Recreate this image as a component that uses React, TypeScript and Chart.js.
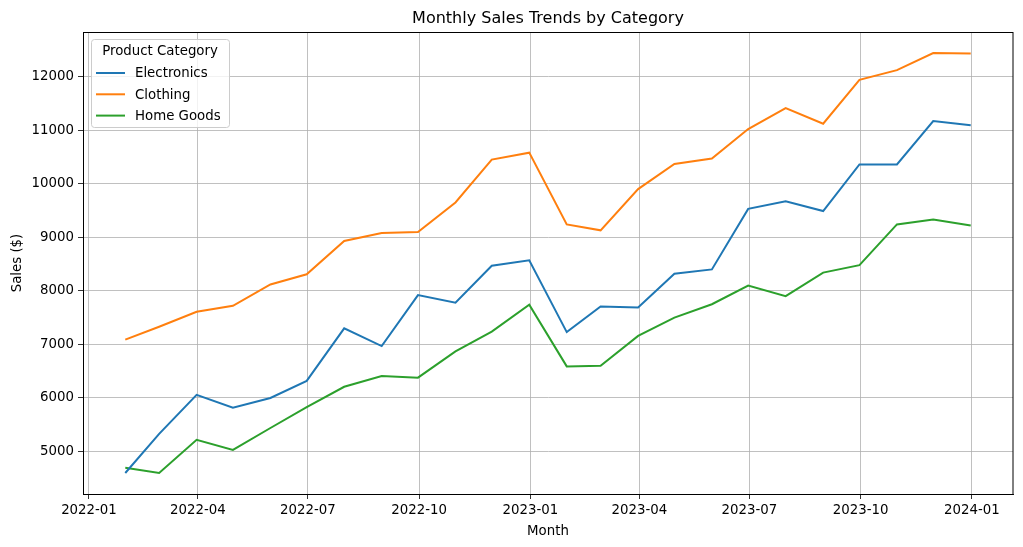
import React, { useEffect, useRef } from "react";
import { Chart, registerables } from "chart.js";

Chart.register(...registerables);

const MONTHS = [
  "2022-01-31", "2022-02-28", "2022-03-31", "2022-04-30", "2022-05-31", "2022-06-30",
  "2022-07-31", "2022-08-31", "2022-09-30", "2022-10-31", "2022-11-30", "2022-12-31",
  "2023-01-31", "2023-02-28", "2023-03-31", "2023-04-30", "2023-05-31", "2023-06-30",
  "2023-07-31", "2023-08-31", "2023-09-30", "2023-10-31", "2023-11-30", "2023-12-31",
];

const ELECTRONICS = [
  4600, 5330, 6060, 5820, 6000, 6320, 7300, 6970, 7920, 7780, 8470, 8570,
  7230, 7710, 7690, 8320, 8400, 9530, 9670, 9490, 10360, 10360, 11170, 11090,
];

const CLOTHING = [
  7090, 7330, 7610, 7720, 8120, 8310, 8930, 9080, 9100, 9650, 10450, 10580,
  9240, 9130, 9900, 10370, 10470, 11020, 11410, 11120, 11940, 12120, 12440, 12430,
];

const HOME_GOODS = [
  4700, 4600, 5220, 5030, 5440, 5830, 6210, 6410, 6380, 6870, 7240, 7740,
  6590, 6600, 7160, 7500, 7750, 8100, 7900, 8340, 8480, 9240, 9330, 9220,
];

const SERIES_NAMES = ["Electronics", "Clothing", "Home Goods"];
const SERIES_COLORS = ["#1f77b4", "#ff7f0e", "#2ca02c"];

const X_TICKS = [
  "2022-01", "2022-04", "2022-07", "2022-10", "2023-01",
  "2023-04", "2023-07", "2023-10", "2024-01",
];
const Y_TICKS = [5000, 6000, 7000, 8000, 9000, 10000, 11000, 12000];

const TITLE = "Monthly Sales Trends by Category";
const X_LABEL = "Month";
const Y_LABEL = "Sales ($)";
const LEGEND_TITLE = "Product Category";

const DAY = 86400000;
const toDay = (s: string) => Date.parse(s.length === 7 ? s + "-01T00:00:00Z" : s + "T00:00:00Z") / DAY;

const FONT = "'DejaVu Sans', sans-serif";

export default function App() {
  const ref = useRef<HTMLCanvasElement | null>(null);

  useEffect(() => {
    document.body.style.margin = "0";
    const canvas = ref.current;
    if (!canvas) return;

    const seriesValues = [ELECTRONICS, CLOTHING, HOME_GOODS];
    const xs = MONTHS.map(toDay);
    const xMinD = Math.min(...xs);
    const xMaxD = Math.max(...xs);
    const xPad = (xMaxD - xMinD) * 0.05;
    const all = seriesValues.flat();
    const yMinD = Math.min(...all);
    const yMaxD = Math.max(...all);
    const yPad = (yMaxD - yMinD) * 0.05;

    const chromePlugin = {
      id: "chrome",
      afterDraw(chart: any) {
        const ctx = chart.ctx as CanvasRenderingContext2D;
        const a = chart.chartArea;
        ctx.save();
        // spines
        ctx.strokeStyle = "#000";
        ctx.lineWidth = 1;
        ctx.strokeRect(Math.round(a.left) + 0.5, Math.round(a.top) + 0.5, Math.round(a.right - a.left) - 1 + 0.5, Math.round(a.bottom - a.top));
        // title
        ctx.fillStyle = "#000";
        ctx.textAlign = "center";
        ctx.textBaseline = "alphabetic";
        ctx.font = `16px ${FONT}`;
        ctx.fillText(TITLE, (a.left + a.right) / 2, a.top - 9);
        // x label
        ctx.font = `13.33px ${FONT}`;
        ctx.fillText(X_LABEL, (a.left + a.right) / 2, 535);
        // y label
        ctx.save();
        ctx.translate(21, (a.top + a.bottom) / 2);
        ctx.rotate(-Math.PI / 2);
        ctx.fillText(Y_LABEL, 0, 0);
        ctx.restore();

        // legend
        const lx = a.left + 8;
        const ly = a.top + 7;
        const lw = 138;
        const lh = 88;
        ctx.fillStyle = "rgba(255,255,255,0.8)";
        ctx.strokeStyle = "#cccccc";
        ctx.lineWidth = 1;
        ctx.beginPath();
        (ctx as any).roundRect(lx + 0.5, ly + 0.5, lw, lh, 3);
        ctx.fill();
        ctx.stroke();
        ctx.fillStyle = "#000";
        ctx.textAlign = "center";
        ctx.textBaseline = "middle";
        ctx.font = `13.33px ${FONT}`;
        ctx.fillText(LEGEND_TITLE, lx + lw / 2, ly + 13);
        SERIES_NAMES.forEach((name, i) => {
          const yy = ly + 34 + i * 21.3;
          ctx.strokeStyle = SERIES_COLORS[i];
          ctx.lineWidth = 2;
          ctx.beginPath();
          ctx.moveTo(lx + 5, yy);
          ctx.lineTo(lx + 34, yy);
          ctx.stroke();
          ctx.fillStyle = "#000";
          ctx.textAlign = "left";
          ctx.fillText(name, lx + 44, yy + 1);
        });
        ctx.restore();
      },
    };

    const chart = new Chart(canvas, {
      type: "line",
      data: {
        datasets: SERIES_NAMES.map((name, si) => ({
          label: name,
          data: MONTHS.map((m, i) => ({ x: toDay(m), y: seriesValues[si][i] })),
          borderColor: SERIES_COLORS[si],
          backgroundColor: SERIES_COLORS[si],
          borderWidth: 2,
          pointRadius: 0,
          tension: 0,
          fill: false,
        })),
      },
      options: {
        responsive: false,
        animation: false,
        events: [],
        layout: { padding: { top: 32, right: 10, left: 0, bottom: 0 } },
        plugins: {
          legend: { display: false },
          tooltip: { enabled: false },
          title: { display: false },
        },
        scales: {
          x: {
            type: "linear",
            min: xMinD - xPad,
            max: xMaxD + xPad,
            afterBuildTicks: (s: any) => {
              s.ticks = X_TICKS.map((t) => ({ value: toDay(t) }));
            },
            afterFit: (s: any) => {
              s.height = 53;
            },
            ticks: {
              autoSkip: false,
              maxRotation: 0,
              minRotation: 0,
              padding: 4,
              color: "#000",
              font: { family: FONT, size: 13.33 },
              callback: (_v: any, i: number) => X_TICKS[i],
            },
            grid: {
              color: "#b0b0b0",
              lineWidth: 0.8,
              tickColor: "#000",
              tickLength: 5,
              drawTicks: true,
            },
            border: { display: true, color: "#000", width: 1 },
          },
          y: {
            type: "linear",
            min: yMinD - yPad,
            max: yMaxD + yPad,
            afterBuildTicks: (s: any) => {
              s.ticks = Y_TICKS.map((v) => ({ value: v }));
            },
            afterFit: (s: any) => {
              s.width = 83;
            },
            ticks: {
              autoSkip: false,
              padding: 4,
              color: "#000",
              font: { family: FONT, size: 13.33 },
              callback: (v: any) => String(v),
            },
            grid: {
              color: "#b0b0b0",
              lineWidth: 0.8,
              tickColor: "#000",
              tickLength: 5,
              drawTicks: true,
            },
            border: { display: true, color: "#000", width: 1 },
          },
        },
      },
      plugins: [chromePlugin],
    } as any);

    return () => chart.destroy();
  }, []);

  return <canvas ref={ref} width={1023} height={547} style={{ display: "block" }} />;
}
